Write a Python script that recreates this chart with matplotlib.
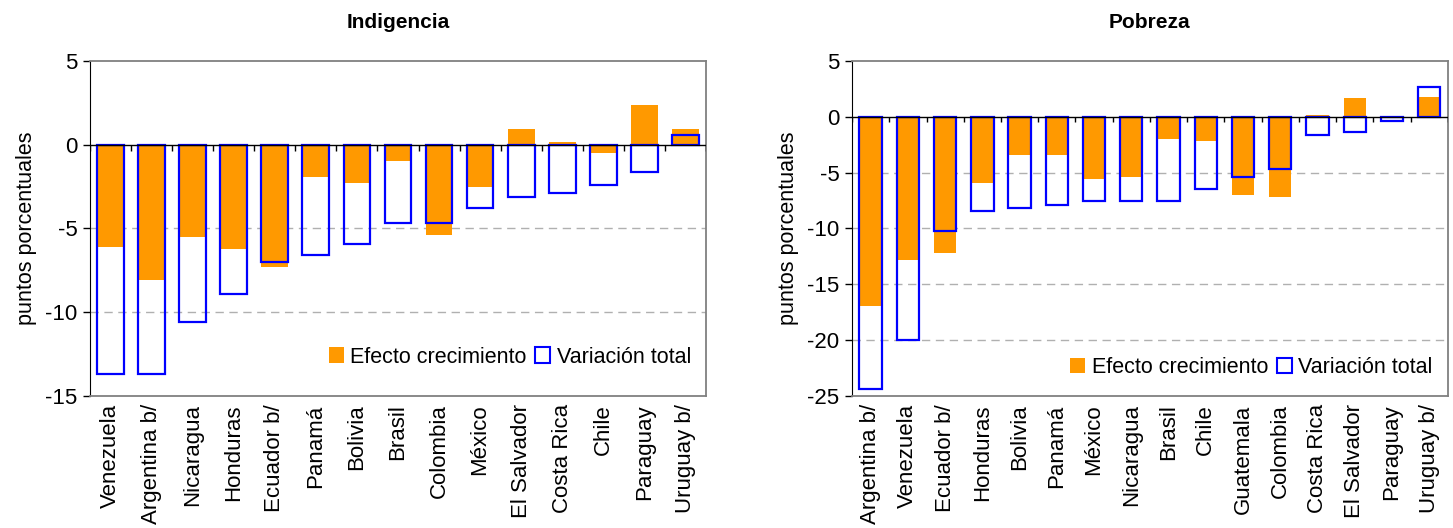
import matplotlib
matplotlib.use("Agg")
from matplotlib import pyplot as plt
from matplotlib.patches import Patch
import numpy as np

plt.rcParams['font.family'] = ['Liberation Sans', 'DejaVu Sans']

# Indigencia
ind_paises = ['Venezuela', 'Argentina b/', 'Nicaragua', 'Honduras', 'Ecuador b/',
              'Panamá', 'Bolivia', 'Brasil', 'Colombia', 'México', 'El Salvador',
              'Costa Rica', 'Chile', 'Paraguay', 'Uruguay b/']
ind_crecimiento = [-6.1, -8.1, -5.5, -6.2, -7.3, -1.9, -2.3, -1.0, -5.4, -2.5,
                   0.95, 0.15, -0.5, 2.4, 0.95]
ind_total = [-13.7, -13.7, -10.6, -8.9, -7.0, -6.6, -5.9, -4.7, -4.7, -3.8,
             -3.1, -2.9, -2.4, -1.6, 0.6]

# Pobreza
pob_paises = ['Argentina b/', 'Venezuela', 'Ecuador b/', 'Honduras', 'Bolivia',
              'Panamá', 'México', 'Nicaragua', 'Brasil', 'Chile', 'Guatemala',
              'Colombia', 'Costa Rica', 'El Salvador', 'Paraguay', 'Uruguay b/']
pob_crecimiento = [-16.9, -12.8, -12.2, -5.9, -3.4, -3.4, -5.6, -5.4, -2.0, -2.2,
                   -7.0, -7.2, 0.2, 1.7, 0.0, 1.8]
pob_total = [-24.4, -20.0, -10.2, -8.4, -8.2, -7.9, -7.5, -7.5, -7.5, -6.5,
             -5.4, -4.7, -1.6, -1.4, -0.4, 2.7]

naranja = '#FF9900'
azul = '#0000FF'
gris = '#808080'


def panel(ax, paises, crec, total, titulo, ylim, yticks, grid_vals, ancho, tick_len, leg_y):
    x = np.arange(len(paises))
    ax.bar(x, crec, width=ancho, color=naranja, zorder=2)
    ax.bar(x, total, width=ancho, facecolor='none', edgecolor=azul, linewidth=1.6, zorder=3)
    ax.axhline(0, color='black', linewidth=1, zorder=4)
    for g in grid_vals:
        ax.axhline(g, color='#b0b0b0', linewidth=1, linestyle=(0, (6, 4)), zorder=1)
    # small ticks on the zero line between categories
    ax.vlines(np.arange(len(paises) + 1) - 0.5, 0, -tick_len, color='black', linewidth=1, zorder=4)
    ax.set_xlim(-0.5, len(paises) - 0.5)
    ax.set_ylim(*ylim)
    ax.set_yticks(yticks)
    ax.set_yticklabels([str(v) for v in yticks], fontsize=16)
    ax.set_xticks(x)
    ax.set_xticklabels(paises, rotation=90, fontsize=16, va='top')
    ax.tick_params(axis='x', length=0, pad=6)
    ax.tick_params(axis='y', length=5, width=1, pad=4)
    for s in ['top', 'right', 'bottom']:
        ax.spines[s].set_color(gris)
        ax.spines[s].set_linewidth(1.3)
    ax.spines['left'].set_color('black')
    ax.set_ylabel('puntos porcentuales', fontsize=15.5, labelpad=6)
    ax.set_title(titulo, fontsize=15, fontweight='bold', pad=24)
    handles = [Patch(facecolor=naranja, edgecolor='none', label='Efecto crecimiento'),
               Patch(facecolor='none', edgecolor=azul, linewidth=1.5, label='Variación total')]
    ax.legend(handles=handles, loc='lower right', ncol=2, frameon=False, fontsize=15.5,
              handlelength=0.7, handleheight=0.7, handletextpad=0.3, columnspacing=0.4,
              bbox_to_anchor=(1.0, leg_y), borderaxespad=0.3)


fig = plt.figure(figsize=(14.53, 5.28), dpi=100)
ax1 = fig.add_axes([0.0619, 0.25, 0.424, 0.6345])
ax2 = fig.add_axes([0.5864, 0.25, 0.410, 0.6345])

panel(ax1, ind_paises, ind_crecimiento, ind_total, 'Indigencia', (-15, 5),
      [5, 0, -5, -10, -15], [-5, -10], 0.65, 0.35, 0.04)
panel(ax2, pob_paises, pob_crecimiento, pob_total, 'Pobreza', (-25, 5),
      [5, 0, -5, -10, -15, -20, -25], [-5, -10, -15, -20], 0.6, 0.5, 0.01)

fig.savefig('out.png', dpi=100)
